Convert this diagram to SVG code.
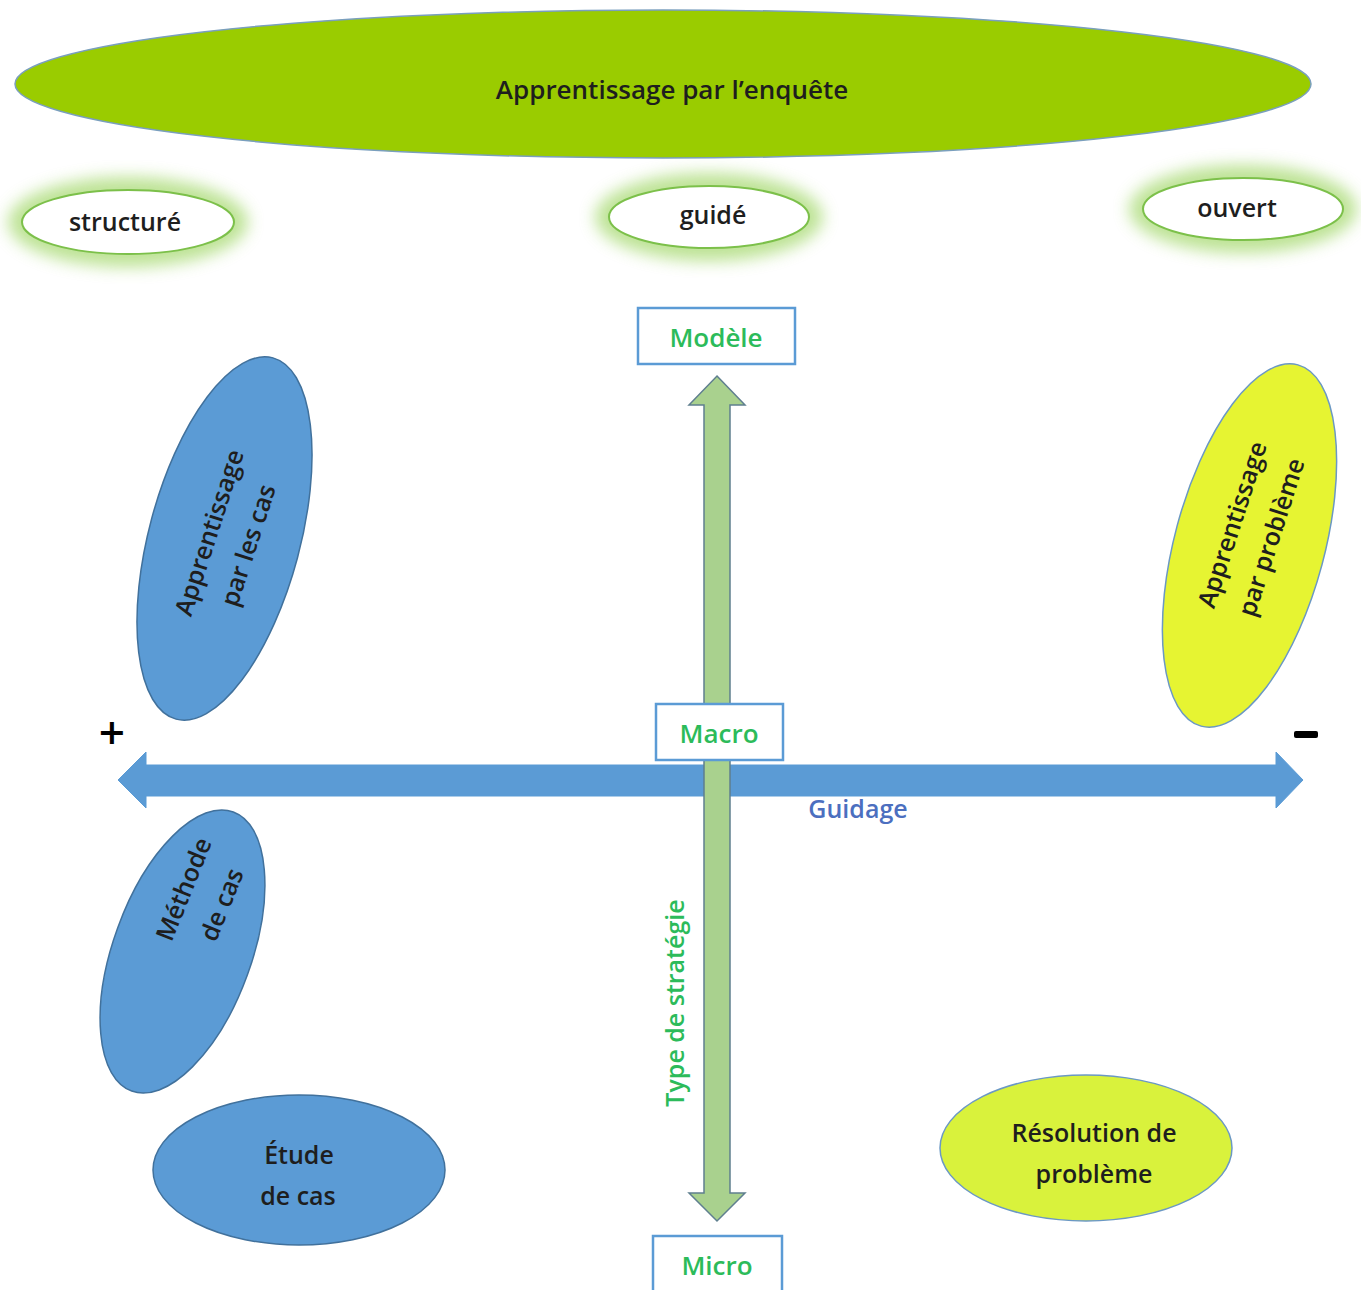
<svg xmlns="http://www.w3.org/2000/svg" width="1361" height="1290" viewBox="0 0 1361 1290">
<defs>
<filter id="glow" x="-30%" y="-80%" width="160%" height="260%">
<feGaussianBlur stdDeviation="8"/>
</filter>
<style>
text{font-family:"Open Sans","Noto Sans","Liberation Sans",sans-serif;fill:#1e1e1e;text-anchor:middle;font-weight:600}
.lbl{font-size:25px}
.grn{fill:#2cbb5a;font-size:26px}
.box{fill:#fff;stroke:#5b9bd5;stroke-width:2.5}
.blue{fill:#5b9bd5;stroke:#41719c;stroke-width:1.5}
.yel{stroke:#6b98c4;stroke-width:1.5}
.halo{fill:#92d050;opacity:0.6;filter:url(#glow)}
.pill{fill:#fff;stroke:#7cc04a;stroke-width:2}
</style>
</defs>
<rect width="1361" height="1290" fill="#fff"/>

<g id="enquete">
<ellipse cx="663" cy="84" rx="648" ry="74" fill="#9acc00" stroke="#7a9fbe" stroke-width="1.5"/>
<text x="672" y="99" style="font-size:26px">Apprentissage par l’enquête</text>
</g>

<g id="structure">
<ellipse class="halo" cx="128" cy="222" rx="120" ry="45"/>
<ellipse class="pill" cx="128" cy="222" rx="106" ry="32"/>
<text class="lbl" x="125" y="231">structuré</text>
</g>
<g id="guide">
<ellipse class="halo" cx="709" cy="217" rx="114" ry="44"/>
<ellipse class="pill" cx="709" cy="217" rx="100" ry="31"/>
<text class="lbl" x="713" y="224">guidé</text>
</g>
<g id="ouvert">
<ellipse class="halo" cx="1243" cy="209" rx="114" ry="44"/>
<ellipse class="pill" cx="1243" cy="209" rx="100" ry="31"/>
<text class="lbl" x="1237" y="217">ouvert</text>
</g>

<g id="connectors">
<path id="axe-guidage" d="M118,780 L146,752 L146,765 L1276,765 L1276,752 L1303,780 L1276,808 L1276,796 L146,796 L146,808 Z" fill="#5b9bd5" stroke="#5b9bd5" stroke-width="1"/>
<path id="axe-strategie" d="M717,376 L745,405 L730,405 L730,1193 L745,1193 L717,1221 L689,1193 L704,1193 L704,405 L689,405 Z" fill="#a9d18e" stroke="#5f7f8f" stroke-width="1.5"/>
</g>

<g id="modele">
<rect class="box" x="638" y="308" width="157" height="56"/>
<text class="grn" x="716" y="347">Modèle</text>
</g>
<g id="macro">
<rect class="box" x="656" y="704" width="127" height="56"/>
<text class="grn" x="719" y="743">Macro</text>
</g>
<g id="micro">
<rect class="box" x="653" y="1236" width="129" height="64"/>
<text class="grn" x="717" y="1275">Micro</text>
</g>

<g id="plus"><text x="112" y="749" style="font-size:46px;fill:#000;font-weight:600">+</text></g>
<g id="moins"><rect x="1294" y="731" width="24" height="7" rx="2" fill="#000"/></g>
<g id="guidage-label"><text x="858" y="818" style="font-size:25px;fill:#4c6fbf">Guidage</text></g>
<g id="type-label"><text transform="translate(684,1003) rotate(-90)" style="font-size:25px;fill:#2cbb5a">Type de stratégie</text></g>

<g id="app-cas">
<ellipse class="blue" cx="0" cy="0" rx="75.5" ry="187" transform="translate(224.5,538.5) rotate(15)"/>
<g transform="translate(229,539) rotate(-72)">
<text class="lbl" x="0" y="-12">Apprentissage</text>
<text class="lbl" x="0" y="29">par les cas</text>
</g>
</g>

<g id="methode-cas">
<ellipse class="blue" cx="0" cy="0" rx="69" ry="148.5" transform="translate(182.5,951.5) rotate(20)"/>
<g transform="translate(203,897) rotate(-68)">
<text class="lbl" x="0" y="-12">Méthode</text>
<text class="lbl" x="0" y="29">de cas</text>
</g>
</g>

<g id="etude-cas">
<ellipse class="blue" cx="299" cy="1170" rx="146" ry="75"/>
<text class="lbl" x="299" y="1164">Étude</text>
<text class="lbl" x="298" y="1205">de cas</text>
</g>

<g id="app-probleme">
<ellipse class="yel" fill="#e6f432" cx="0" cy="0" rx="75" ry="187" transform="translate(1249.5,545.5) rotate(15)"/>
<g transform="translate(1252,531) rotate(-72)">
<text class="lbl" x="0" y="-12">Apprentissage</text>
<text class="lbl" x="0" y="29">par problème</text>
</g>
</g>

<g id="resolution">
<ellipse class="yel" fill="#d9f23c" cx="1086" cy="1148" rx="146" ry="73"/>
<text class="lbl" x="1094" y="1142">Résolution de</text>
<text class="lbl" x="1094" y="1183">problème</text>
</g>
</svg>
